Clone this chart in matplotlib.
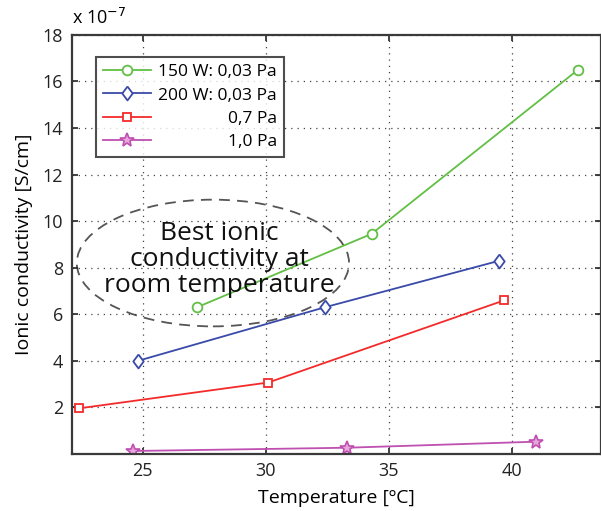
import matplotlib
matplotlib.use("Agg")
from matplotlib import pyplot as plt
from matplotlib.patches import Ellipse
import numpy as np

plt.rcParams['font.family'] = ['Open Sans', 'DejaVu Sans']

# Data (conductivity in units of 1e-7 S/cm)
temp_150w = [27.2, 34.3, 42.7]
cond_150w = [6.3, 9.45, 16.5]

temp_200w = [24.8, 32.4, 39.5]
cond_200w = [4.0, 6.3, 8.3]

temp_07pa = [22.4, 30.1, 39.7]
cond_07pa = [1.96, 3.07, 6.6]

temp_10pa = [24.6, 33.3, 41.0]
cond_10pa = [0.13, 0.27, 0.53]

labels = ["150 W: 0,03 Pa", "200 W: 0,03 Pa", "0,7 Pa", "1,0 Pa"]
xticks = [25, 30, 35, 40]
yticks = [2, 4, 6, 8, 10, 12, 14, 16, 18]

diamond = [(0, 1), (0.75, 0), (0, -1), (-0.75, 0), (0, 1)]

fig = plt.figure(figsize=(6.01, 5.11), dpi=100)
ax = fig.add_axes([0.119, 0.1115, 0.881, 0.8205])

ax.plot(temp_150w, cond_150w, color="#62bf45", lw=1.3, marker="o",
        ms=7, mfc="white", mew=1.3, label=labels[0])
ax.plot(temp_200w, cond_200w, color="#3a4aa8", lw=1.3, marker=diamond,
        ms=10, mfc="white", mew=1.3, label=labels[1])
ax.plot(temp_07pa, cond_07pa, color="#f42a2a", lw=1.3, marker="s",
        ms=6, mfc="white", mew=1.3, label=labels[2])
ax.plot(temp_10pa, cond_10pa, color="#bf4fb0", lw=1.3, marker="*",
        ms=10, mfc="#e6a6dc", mew=1.2, label=labels[3])

ax.set_xlim(22.1, 43.63)
ax.set_ylim(0, 18)
ax.set_xticks(xticks)
ax.set_yticks(yticks)
ax.tick_params(direction="in", length=4, width=1.2, top=True, right=True,
               labelsize=13, colors="#222222", pad=6)
ax.grid(True, color="#444444", linestyle=(0, (1, 4)), lw=0.9)
for s in ax.spines.values():
    s.set_color("#3a3a3a")
    s.set_linewidth(1.6)

ax.set_xlabel("Temperature [ºC]", fontsize=14, labelpad=6)
ax.set_ylabel("Ionic conductivity [S/cm]", fontsize=14, labelpad=7)
ax.text(0.0, 1.015, r"x 10$^{-7}$", transform=ax.transAxes, fontsize=13,
        ha="left", va="bottom")

# annotation
ell = Ellipse((27.85, 8.2), 11.07, 5.44, fill=False, edgecolor="#555555",
              lw=1.3, linestyle=(0, (6, 4)))
ax.add_patch(ell)
ax.text(28.1, 8.35, "Best ionic\nconductivity at\nroom temperature",
        ha="center", va="center", fontsize=19, linespacing=1.03,
        color="#111111")

leg = ax.legend(loc="upper left", bbox_to_anchor=(0.047, 0.947),
                fontsize=12.5, frameon=True, fancybox=False,
                handlelength=2.75, borderpad=0.4, labelspacing=0.42,
                handletextpad=0.4, borderaxespad=0)
leg.get_frame().set_edgecolor("#222222")
leg.get_frame().set_linewidth(1.5)

# right-align the legend labels
fig.canvas.draw()
renderer = fig.canvas.get_renderer()
widths = [t.get_window_extent(renderer).width for t in leg.get_texts()]
for t, w in zip(leg.get_texts(), widths):
    t.set_x(max(widths) - w)

plt.savefig("out.png", dpi=100)
